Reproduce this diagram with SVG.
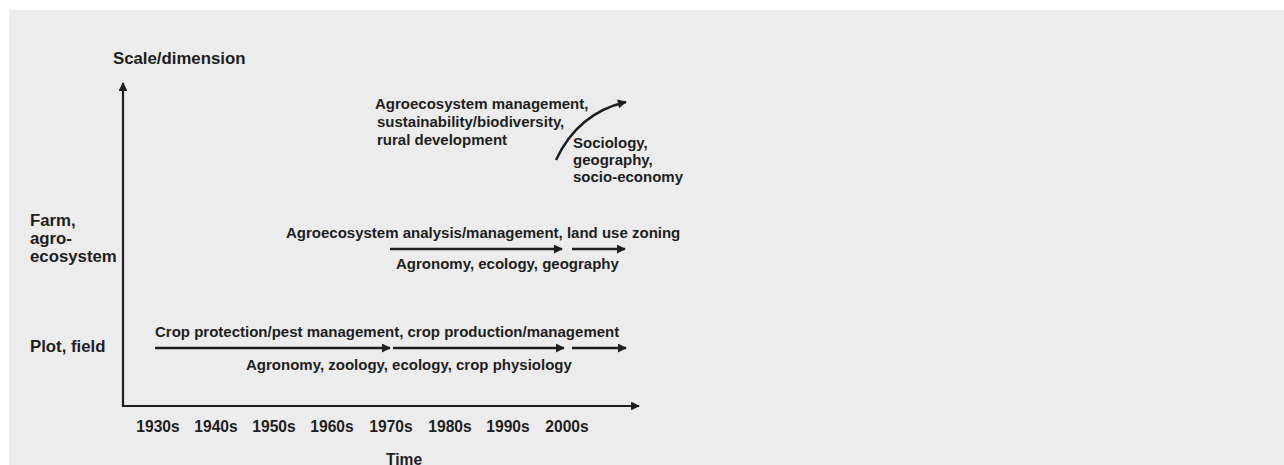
<svg xmlns="http://www.w3.org/2000/svg" width="1284" height="465" viewBox="0 0 1284 465">
  <style>
    text { font-family: "Liberation Sans", Arial, sans-serif; font-weight: bold; font-size: 15px; fill: #1e1e1e; }
    .lab { font-size: 16.8px; }
    .tick { font-size: 15.6px; }
    .axis { stroke: #1e1e1e; stroke-width: 2.2; fill: none; }
    .flow { stroke: #1e1e1e; stroke-width: 2.5; fill: none; }
  </style>
  <defs>
    <marker id="head" viewBox="0 0 10 10" refX="9" refY="5" markerWidth="3.8" markerHeight="3.6" markerUnits="strokeWidth" orient="auto">
      <path d="M0,0 L10,5 L0,10 Z" fill="#1e1e1e"/>
    </marker>
    <marker id="axhead" viewBox="0 0 10 10" refX="9" refY="5" markerWidth="4" markerHeight="4" markerUnits="strokeWidth" orient="auto">
      <path d="M0,0 L10,5 L0,10 Z" fill="#1e1e1e"/>
    </marker>
  </defs>

  <!-- panel -->
  <rect x="0" y="0" width="1284" height="465" fill="#ffffff"/>
  <rect x="9" y="10" width="1275" height="455" fill="#ececec"/>

  <!-- axes -->
  <g id="axes">
    <path class="axis" d="M123,407 L123,83" marker-end="url(#axhead)"/>
    <path class="axis" d="M122,406 L639,406" marker-end="url(#axhead)"/>
    <text class="lab" x="113" y="64">Scale/dimension</text>
    <text class="lab" x="30" y="226">Farm,</text>
    <text class="lab" x="30" y="244">agro-</text>
    <text class="lab" x="30" y="262">ecosystem</text>
    <text class="lab" x="30" y="352">Plot, field</text>
    <g text-anchor="middle">
      <text class="tick" x="158" y="432">1930s</text>
      <text class="tick" x="216" y="432">1940s</text>
      <text class="tick" x="274" y="432">1950s</text>
      <text class="tick" x="332" y="432">1960s</text>
      <text class="tick" x="391" y="432">1970s</text>
      <text class="tick" x="450" y="432">1980s</text>
      <text class="tick" x="508" y="432">1990s</text>
      <text class="tick" x="567" y="432">2000s</text>
      <text class="tick" x="404" y="465">Time</text>
    </g>
  </g>

  <!-- field level -->
  <g id="field">
    <text x="155" y="337">Crop protection/pest management, crop production/management</text>
    <text x="246" y="370">Agronomy, zoology, ecology, crop physiology</text>
  </g>

  <!-- farm / agroecosystem level -->
  <g id="farm">
    <text x="286" y="238">Agroecosystem analysis/management, land use zoning</text>
    <text x="396" y="269">Agronomy, ecology, geography</text>
  </g>

  <!-- landscape / society level -->
  <g id="society">
    <text x="375" y="109">Agroecosystem management,</text>
    <text x="377" y="127"> sustainability/biodiversity,</text>
    <text x="377" y="145">rural development</text>
    <text x="573" y="148">Sociology,</text>
    <text x="573" y="165">geography,</text>
    <text x="573" y="182">socio-economy</text>
  </g>

  <!-- connectors -->
  <g id="connectors">
    <path class="flow" d="M155,348 L390,348" marker-end="url(#head)"/>
    <path class="flow" d="M393,348 L564,348" marker-end="url(#head)"/>
    <path class="flow" d="M572,348 L626,348" marker-end="url(#head)"/>
    <path class="flow" d="M390,249 L562,249" marker-end="url(#head)"/>
    <path class="flow" d="M572,249 L625,249" marker-end="url(#head)"/>
    <path class="flow" d="M556,160 Q578,113 626,102" marker-end="url(#head)"/>
  </g>
</svg>
